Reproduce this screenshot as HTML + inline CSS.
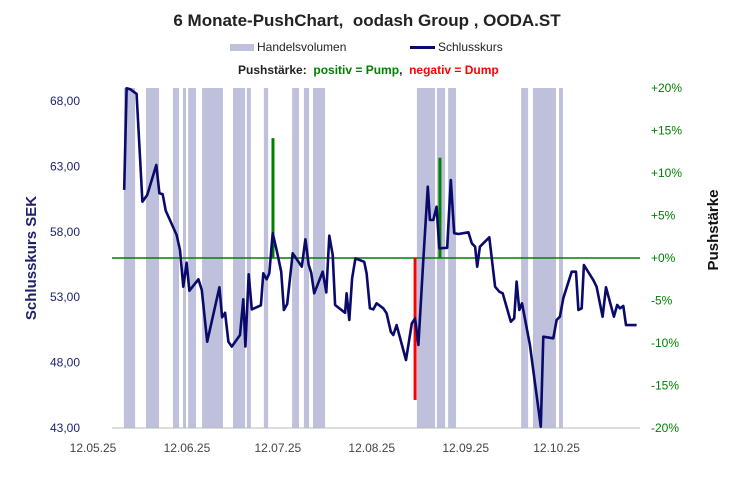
<!DOCTYPE html>
<html><head><meta charset="utf-8"><style>
body{margin:0;background:#fff;}
svg{display:block;font-family:"Liberation Sans",Arial,sans-serif;}
</style></head><body>
<svg id="chart" width="734" height="480" viewBox="0 0 734 480" xmlns="http://www.w3.org/2000/svg">
<text x="367" y="26" text-anchor="middle" font-size="17" font-weight="bold" fill="#222">6 Monate-PushChart,&#160; oodash Group , OODA.ST</text>
<g>
<rect x="230" y="44" width="24" height="7" fill="#bfc0dc"/>
<text x="257" y="51" font-size="12" fill="#222">Handelsvolumen</text>
<line x1="410" y1="47.5" x2="435" y2="47.5" stroke="#0a0a6a" stroke-width="3"/>
<text x="438" y="51" font-size="12" fill="#222">Schlusskurs</text>
<text x="238" y="74" font-size="12" font-weight="bold" fill="#222">Pushstärke:&#160; <tspan fill="#008000">positiv = Pump</tspan>,&#160; <tspan fill="#ff0000">negativ = Dump</tspan></text>
</g>
<text transform="translate(36,258) rotate(-90)" text-anchor="middle" font-size="15" font-weight="bold" fill="#1f1f6e">Schlusskurs SEK</text>
<text transform="translate(718,230) rotate(-90)" text-anchor="middle" font-size="15" font-weight="bold" fill="#111">Pushstärke</text>
<g id="bands"></g><g id="axes"></g><g id="push"></g><g id="line"></g>
</svg>
<script>
const bandStart=[10.2,17.5,26.4,29.7,31.4,36.0,46.2,50.8,56.4,65.7,69.6,72.6,106.9,113.5,117.2,141.3,145.2,153.8];
const bandEnd=[13.9,21.8,28.4,30.7,34.0,42.9,50.2,52.1,57.8,68.0,71.3,76.6,112.9,116.2,119.8,143.6,152.8,155.1];
const days=[10.3,11.1,12.4,14.4,16.3,17.9,20.9,21.9,23.0,24.0,27.6,28.7,29.8,30.9,31.8,34.8,35.9,37.7,41.7,42.6,43.6,44.7,45.8,48.5,49.6,50.3,51.4,52.4,55.4,56.2,57.3,58.2,59.3,60.6,62.1,63.0,64.1,65.9,68.9,70.1,71.2,72.0,73.0,75.8,77.0,78.0,79.1,79.9,83.2,83.7,84.6,85.5,86.6,89.5,90.3,91.4,92.5,93.6,95.8,96.9,98.3,99.1,100.2,103.3,105.2,106.3,107.4,109.0,110.5,111.2,112.3,113.4,114.3,116.9,118.1,119.2,120.6,123.9,125.0,126.1,126.8,127.7,130.8,132.7,134.1,135.2,137.9,139.0,139.8,140.7,141.6,144.2,147.8,148.6,151.9,153.0,154.1,155.2,158.0,159.4,160.2,161.3,162.0,165.1,166.2,168.2,169.3,171.9,173.0,173.9,175.0,175.9,179.4];
const prices=[61.20,68.97,68.89,68.54,60.30,60.81,63.11,60.94,60.87,59.62,57.76,56.61,53.80,55.64,53.50,54.37,53.55,49.60,53.76,51.46,51.81,49.60,49.22,50.11,52.84,49.22,54.75,52.07,52.38,54.83,54.37,54.83,57.89,56.61,54.95,52.02,52.48,56.36,55.33,57.43,55.46,54.87,53.30,54.95,53.37,57.70,56.23,52.40,51.81,53.30,51.26,54.44,55.97,55.71,54.83,52.15,52.07,52.53,52.15,51.77,50.36,50.11,50.87,48.20,51.00,51.39,49.35,55.84,61.45,58.90,58.90,59.92,56.74,56.78,61.96,57.89,57.83,57.96,57.12,56.86,55.33,56.86,57.58,53.80,53.42,53.30,51.13,51.39,54.19,52.02,52.53,49.35,43.10,49.98,49.86,51.26,51.51,52.92,54.95,54.95,52.02,52.15,55.46,54.31,53.80,51.51,53.76,51.51,52.40,52.15,52.33,50.87,50.87];
const pushDays=[59.4,106.3,114.5];
const pushValues=[14.1,-16.7,11.8];
const leftTicks=[43,48,53,58,63,68];
const leftTickLabels=["43,00","48,00","53,00","58,00","63,00","68,00"];
const rightTicks=[-20,-15,-10,-5,0,5,10,15,20];
const rightTickLabels=["-20%","-15%","-10%","-5%","+0%","+5%","+10%","+15%","+20%"];
const xTickDays=[0,31,61,92,123,153];
const xTickLabels=["12.05.25","12.06.25","12.07.25","12.08.25","12.09.25","12.10.25"];

const NS="http://www.w3.org/2000/svg";
const X=d=>93+d*3.03;
const YL=v=>428-(v-43)*13.08;
const YR=p=>258-p*8.5;
const PL=112,PR=640,PT=88,PB=428;
function mk(parent,tag,attrs){const e=document.createElementNS(NS,tag);for(const k in attrs)e.setAttribute(k,attrs[k]);document.getElementById(parent).appendChild(e);return e;}

bandStart.forEach((s,i)=>{
 const r=mk('bands','rect',{x:X(s),y:PT,width:X(bandEnd[i])-X(s),height:PB-PT,fill:'#bfc0dc'});
 
 
});
const ax=mk('axes','line',{x1:PL,y1:PB,x2:PR,y2:PB,stroke:'#bbb','stroke-width':1});


const zl=mk('axes','line',{x1:PL,y1:YR(0),x2:PR,y2:YR(0),stroke:'#008000','stroke-width':1.5});


leftTicks.forEach((v,i)=>{
 const t=mk('axes','text',{x:80,y:YL(v)+4,'text-anchor':'end','font-size':12,fill:'#1f1f6e'});
 t.textContent=leftTickLabels[i];
 
 
});
rightTicks.forEach((p,i)=>{
 const t=mk('axes','text',{x:651,y:YR(p)+4,'font-size':12,fill:'#008000'});
 t.textContent=rightTickLabels[i];
 
 
});
xTickDays.forEach((d,i)=>{
 const t=mk('axes','text',{x:X(d),y:452,'text-anchor':'middle','font-size':12,fill:'#444'});
 t.textContent=xTickLabels[i];
 
 
});
pushDays.forEach((d,i)=>{
 const v=pushValues[i];
 const r=mk('push','rect',{x:X(d)-1.5,y:Math.min(YR(0),YR(v)),width:3,height:Math.abs(YR(v)-YR(0)),fill:v>=0?'#008000':'#ff0000'});
 
 
});
const pts=days.map((d,i)=>X(d).toFixed(1)+','+YL(prices[i]).toFixed(1)).join(' ');
const pl=mk('line','polyline',{points:pts,fill:'none',stroke:'#0a0a6a','stroke-width':2.6,'stroke-linejoin':'round'});


</script>
</body></html>
